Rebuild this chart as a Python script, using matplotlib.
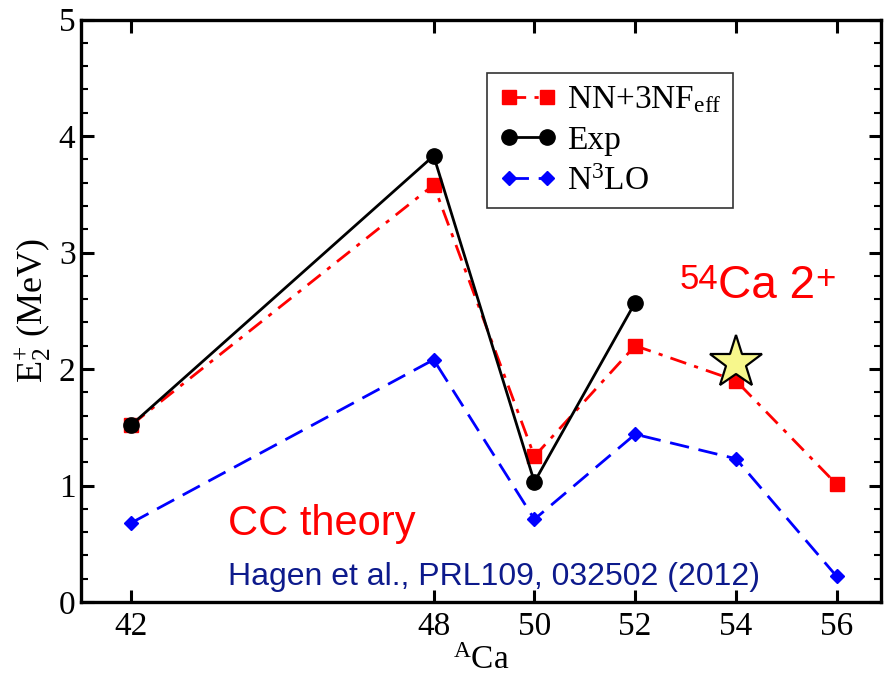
import matplotlib
matplotlib.use("Agg")
import matplotlib.pyplot as plt
from matplotlib.ticker import MultipleLocator, FixedLocator

plt.rcParams["font.family"] = ["Liberation Serif", "DejaVu Serif"]
plt.rcParams["mathtext.fontset"] = "custom"
plt.rcParams["mathtext.rm"] = "Liberation Serif"
plt.rcParams["mathtext.it"] = "Liberation Serif:italic"

# Calcium isotopes (mass number A)
mass_theory = [42, 48, 50, 52, 54, 56]
mass_exp = [42, 48, 50, 52]

# First 2+ excitation energies in MeV
e_nn3nf = [1.52, 3.58, 1.25, 2.20, 1.90, 1.01]
e_exp = [1.52, 3.83, 1.03, 2.57]
e_n3lo = [0.68, 2.08, 0.71, 1.44, 1.23, 0.22]

# Highlighted prediction for 54Ca
star_mass = [54]
star_energy = [2.05]

xticks = [42, 48, 50, 52, 54, 56]

fig = plt.figure(figsize=(8.85, 6.79), dpi=100)
ax = fig.add_axes([81 / 885, 77 / 679, 800 / 885, 582.5 / 679])

ax.plot(mass_theory, e_n3lo, color="#0000ff", lw=2.0, dashes=(7, 3.5),
        marker="D", ms=7, mec="#0000ff", mfc="#0000ff",
        label=r"N$^{3}$LO", zorder=3)
ax.plot(mass_theory, e_nn3nf, color="#ff0000", lw=2.0, dashes=(6, 3, 1.5, 3),
        marker="s", ms=9.5, mec="#ff0000", mfc="#ff0000",
        label=r"NN+3NF$_{\rm eff}$", zorder=4)
ax.plot(mass_exp, e_exp, color="black", lw=2.0, ls="-",
        marker="o", ms=11, mec="black", mfc="black",
        label="Exp", zorder=5)

ax.plot(star_mass, star_energy, marker="*", ms=40, mfc="#f7f78c",
        mec="black", mew=1.6, ls="none", zorder=6)

ax.set_xlim(41, 56.88)
ax.set_ylim(0, 5)
ax.xaxis.set_major_locator(FixedLocator(xticks))
ax.set_xticklabels([str(t) for t in xticks])
ax.yaxis.set_major_locator(MultipleLocator(1))
ax.yaxis.set_minor_locator(MultipleLocator(0.2))

ax.tick_params(axis="both", which="major", direction="in", length=9,
               width=2.2, labelsize=24, top=True, right=True)
ax.tick_params(axis="both", which="minor", direction="in", length=5,
               width=1.5, top=False, right=True)
ax.tick_params(axis="x", pad=7)
ax.tick_params(axis="y", pad=4)
for s in ax.spines.values():
    s.set_linewidth(2.4)

ax.set_ylabel(r"E$_{2}^{+}$ (MeV)", fontsize=26, labelpad=4)
ax.set_xlabel(r"$^{\rm A}$Ca", fontsize=24, labelpad=2)

handles, labels = ax.get_legend_handles_labels()
order = [1, 2, 0]
leg = ax.legend([handles[i] for i in order], [labels[i] for i in order],
                loc="upper left", bbox_to_anchor=(487 / 885, 1 - 73 / 679),
                bbox_transform=fig.transFigure, fontsize=24, numpoints=2,
                handlelength=1.75, handletextpad=0.3, labelspacing=0.3,
                borderpad=0.35, borderaxespad=0, fancybox=False,
                framealpha=1, edgecolor="#333333")
leg.get_frame().set_linewidth(1.2)

sans = ["Liberation Sans", "DejaVu Sans"]
red = "#ff0000"
main = ax.text(0.796, 0.522, "Ca 2", transform=ax.transAxes,
               color=red, fontsize=33, family=sans)
ax.annotate("54", xy=(0, 1.02), xycoords=main, ha="right", va="top",
            color=red, fontsize=25, family=sans)
ax.annotate("+", xy=(1, 1.02), xycoords=main, ha="left", va="top",
            color=red, fontsize=25, family=sans)

ax.text(0.184, 0.115, "CC theory", transform=ax.transAxes,
        color=red, fontsize=30, family=sans)
ax.text(0.184, 0.03, "Hagen et al., PRL109, 032502 (2012)",
        transform=ax.transAxes, color="#0d1a8c", fontsize=23, family=sans)

fig.savefig("out.png", dpi=100)
